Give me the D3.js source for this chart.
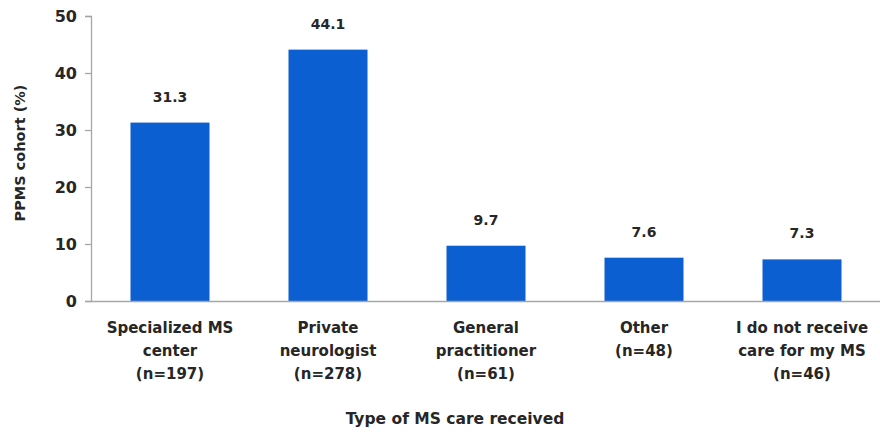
<!DOCTYPE html>
<html><head><meta charset="utf-8">
<script src="https://cdn.jsdelivr.net/npm/d3@7"></script>
<style>body{margin:0;background:#fff;} text{font-family:"DejaVu Sans",sans-serif;font-weight:bold;fill:#262626;}</style>
</head><body><svg id="c" width="880" height="436"></svg>
<script>
const categories = [["Specialized MS","center","(n=197)"],["Private","neurologist","(n=278)"],["General","practitioner","(n=61)"],["Other","(n=48)"],["I do not receive","care for my MS","(n=46)"]];
const values = [31.3, 44.1, 9.7, 7.6, 7.3];
const yTicks = [0,10,20,30,40,50];
const xTitle = "Type of MS care received";
const yTitle = "PPMS cohort (%)";

const svg = d3.select("#c");
const keys = categories.map((c,i)=>i);
const x = d3.scaleBand().domain(keys).range([91,881]).paddingInner(0.5).paddingOuter(0.25);
const y = d3.scaleLinear().domain([0,50]).range([301,16]);

const yAxis = svg.append("g").attr("transform","translate(91,0)")
  .call(d3.axisLeft(y).tickValues(yTicks).tickSize(6).tickPadding(8));
yAxis.selectAll("path,line").attr("stroke","#a6a6a6").attr("stroke-width",1.3);
yAxis.selectAll("text").style("font-size","16px").attr("fill","#262626");

svg.append("g").selectAll("rect").data(values).join("rect")
  .attr("x",(d,i)=>x(i)).attr("width",x.bandwidth())
  .attr("y",d=>y(d)).attr("height",d=>y(0)-y(d)).attr("fill","#0b5fd1");

const xAxis = svg.append("g").attr("transform","translate(0,301)")
  .call(d3.axisBottom(x).tickSize(0).tickFormat(""));
xAxis.select("path").attr("stroke","#a6a6a6").attr("stroke-width",1.3);

svg.append("g").selectAll("text").data(values).join("text")
  .attr("x",(d,i)=>x(i)+x.bandwidth()/2).attr("y",d=>y(d)-21)
  .attr("text-anchor","middle").style("font-size","14px").text(d=>d.toFixed(1));

const lab = svg.append("g").selectAll("text").data(categories).join("text")
  .attr("x",(d,i)=>x(i)+x.bandwidth()/2).attr("y",333)
  .attr("text-anchor","middle").style("font-size","15px");
lab.selectAll("tspan").data(d=>d).join("tspan")
  .attr("x",function(){return this.parentNode.getAttribute("x");})
  .attr("dy",(d,i)=>i===0?0:23).text(d=>d);

svg.append("text").attr("x",455).attr("y",424).attr("text-anchor","middle")
  .style("font-size","15.5px").text(xTitle);
svg.append("text").attr("transform","translate(25,153) rotate(-90)").attr("text-anchor","middle")
  .style("font-size","14.5px").text(yTitle);
</script></body></html>
